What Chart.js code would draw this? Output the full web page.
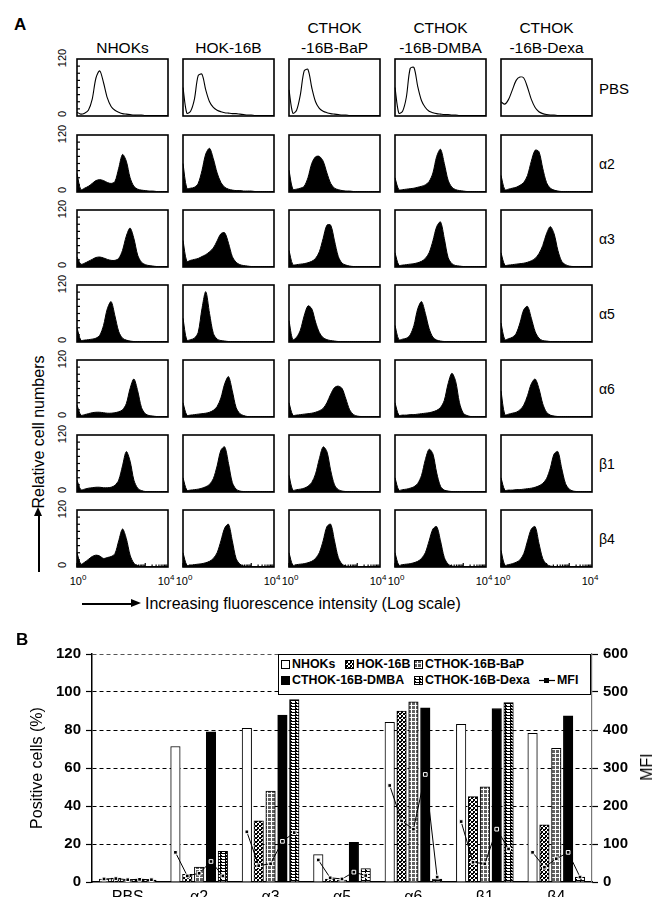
<!DOCTYPE html>
<html><head><meta charset="utf-8">
<script src="https://cdn.jsdelivr.net/npm/chart.js@4.4.1/dist/chart.umd.min.js"></script>
<style>
html,body{margin:0;padding:0;background:#fff;}
#page{position:relative;width:665px;height:897px;overflow:hidden;font-family:"Liberation Sans",Arial,Helvetica,sans-serif;color:#000;background:#fff;}
.t{position:absolute;white-space:nowrap;line-height:1;}
.c{transform:translate(-50%,-50%);}
.r{transform:translate(-50%,-50%) rotate(-90deg);}
canvas{position:absolute;}
.leg{position:absolute;left:278px;top:654px;width:311px;height:39px;border:1px solid #000;background:#fff;}
.li{position:absolute;font-weight:bold;font-size:12.4px;line-height:1;white-space:nowrap;}
sup{font-size:8px;vertical-align:5px;}
</style></head>
<body><div id="page"></div>
<script>
// ---------------- DATA ----------------
const colHeaders = ['NHOKs', 'HOK-16B', 'CTHOK\n-16B-BaP', 'CTHOK\n-16B-DMBA', 'CTHOK\n-16B-Dexa'];
const rowLabels = ['PBS', 'α2', 'α3', 'α5', 'α6', 'β1', 'β4'];
const histYTicks = ['120', '0'];
const histXTicks = ['10', '10'];
const histXExp = ['0', '4'];
const histBins = ['0','1','2','3','4','5','6','7','8','9','10','11','12','13','14','15','16','17','18','19','20','21','22','23','24'];

// relative cell numbers per fluorescence bin (0..120), one list per cell line
const histPBS = [
  [8,4,6,12,35,80,95,70,38,20,12,8,5,4,3,2,2,2,1,1,1,1,1,1,1],
  [60,6,10,35,85,88,55,30,18,12,9,7,6,5,5,4,3,2,2,1,1,1,1,1,1],
  [55,6,12,45,95,98,60,30,16,10,7,5,4,3,2,2,1,1,1,1,1,1,1,1,1],
  [60,6,10,40,100,102,62,32,18,10,7,5,4,3,3,2,2,1,1,1,1,1,1,1,1],
  [30,25,35,55,75,82,80,60,35,18,9,5,3,2,2,1,1,1,1,1,1,1,1,1,1]
];
const histA2 = [
  [39,5,8,12,18,24,26,24,20,18,22,50,79,65,30,12,6,4,3,2,2,1,1,1,1],
  [60,8,8,10,18,45,80,92,70,40,20,10,6,4,3,3,2,2,2,1,1,1,1,1,1],
  [46,6,6,8,12,30,60,74,75,65,40,18,8,5,3,2,2,1,1,1,1,1,1,1,1],
  [30,5,5,6,7,8,10,12,15,22,40,75,90,60,25,10,5,3,2,1,1,1,1,1,1],
  [35,5,6,8,10,14,20,35,65,88,85,50,20,8,4,2,1,1,1,1,1,1,1,1,1]
];
const histA3 = [
  [21,6,8,12,16,20,21,19,16,14,14,18,35,65,82,60,25,10,5,3,2,1,1,1,1],
  [56,12,14,16,18,22,26,32,40,55,70,72,50,22,10,5,3,2,1,1,1,1,1,1,1],
  [35,5,5,6,7,9,12,18,32,60,88,88,55,22,8,4,2,1,1,1,1,1,1,1,1],
  [30,4,4,5,6,7,9,12,18,30,55,85,95,60,20,7,3,2,1,1,1,1,1,1,1],
  [30,4,4,5,6,7,8,10,13,18,28,45,70,85,70,35,12,5,2,1,1,1,1,1,1]
];
const histA5 = [
  [30,4,4,5,6,8,14,35,70,85,55,22,8,4,2,1,1,1,1,1,1,1,1,1,1],
  [50,4,5,8,20,70,106,60,18,6,3,2,1,1,1,1,1,1,1,1,1,1,1,1,1],
  [45,5,10,25,55,76,70,42,20,9,5,3,2,1,1,1,1,1,1,1,1,1,1,1,1],
  [35,5,6,8,15,35,70,85,60,28,10,4,2,1,1,1,1,1,1,1,1,1,1,1,1],
  [40,5,7,10,18,40,68,75,50,22,8,3,2,1,1,1,1,1,1,1,1,1,1,1,1]
];
const histA6 = [
  [25,4,5,7,9,10,10,9,8,8,9,11,15,28,60,80,55,20,7,3,2,1,1,1,1],
  [30,4,4,5,6,7,8,10,14,22,40,70,85,55,20,7,3,1,1,1,1,1,1,1,1],
  [30,4,4,5,6,7,8,10,13,18,30,48,62,65,60,38,15,5,2,1,1,1,1,1,1],
  [30,4,4,4,5,5,6,7,8,9,11,14,20,35,70,92,75,30,8,3,1,1,1,1,1],
  [55,5,6,8,10,15,25,45,70,80,60,28,10,4,2,1,1,1,1,1,1,1,1,1,1]
];
const histB1 = [
  [25,5,6,8,9,10,10,9,9,10,14,25,55,85,65,25,8,3,1,1,1,1,1,1,1],
  [30,4,4,5,6,8,11,16,28,55,88,95,60,20,6,2,1,1,1,1,1,1,1,1,1],
  [35,4,5,6,8,12,20,38,70,95,85,45,15,5,2,1,1,1,1,1,1,1,1,1,1],
  [30,4,5,6,8,11,18,35,68,90,80,40,12,4,2,1,1,1,1,1,1,1,1,1,1],
  [30,4,4,4,5,5,6,7,8,10,13,18,28,50,80,85,50,18,6,2,1,1,1,1,1]
];
const histB4 = [
  [30,6,10,16,22,25,23,18,20,22,28,55,80,60,25,8,3,1,1,1,1,1,1,1,1],
  [30,4,4,5,6,7,9,12,18,30,55,82,90,55,18,6,2,1,1,1,1,1,1,1,1],
  [30,4,5,6,7,9,12,18,30,55,85,90,55,20,6,2,1,1,1,1,1,1,1,1,1],
  [30,4,5,6,7,9,12,18,30,55,80,85,55,20,6,2,1,1,1,1,1,1,1,1,1],
  [35,4,5,7,10,15,28,55,80,85,50,18,6,2,1,1,1,1,1,1,1,1,1,1,1]
];

// Panel B
const categoriesB = ['PBS', 'α2', 'α3', 'α5', 'α6', 'β1', 'β4'];
const seriesNames = ['NHOKs', 'HOK-16B', 'CTHOK-16B-BaP', 'CTHOK-16B-DMBA', 'CTHOK-16B-Dexa'];
const pctNHOK = [1.5, 71.3, 80.9, 14.4, 84.0, 83.0, 78.3];
const pctHOK  = [2.0, 4.0, 32.2, 1.5, 89.9, 44.9, 30.1];
const pctBaP  = [1.0, 7.8, 47.8, 1.0, 94.8, 50.1, 70.4];
const pctDMBA = [1.5, 79.1, 87.8, 20.9, 91.7, 91.3, 87.5];
const pctDexa = [1.0, 16.2, 96.0, 7.0, 1.5, 94.4, 2.6];
const mfiNHOK = [8, 78, 132, 58, 254, 159, 78];
const mfiHOK  = [9, 16, 43, 11, 161, 52, 39];
const mfiBaP  = [6, 23, 48, 8, 139, 48, 61];
const mfiDMBA = [7, 54, 107, 26, 283, 139, 78];
const mfiDexa = [6, 16, 130, 17, 13, 87, 13];
const leftTicks = [0, 20, 40, 60, 80, 100, 120];
const rightTicks = [0, 100, 200, 300, 400, 500, 600];

// ---------------- HELPERS ----------------
Chart.defaults.font.family = "'Liberation Sans', Arial, Helvetica, sans-serif";
Chart.defaults.color = '#000';
const page = document.getElementById('page');
function txt(html, x, y, css, cls) {
  const d = document.createElement('div');
  d.className = 't ' + (cls || 'c');
  d.innerHTML = html;
  d.style.left = x + 'px'; d.style.top = y + 'px';
  if (css) d.style.cssText += css;
  page.appendChild(d);
  return d;
}
function box(x, y, w, h, css) {
  const d = document.createElement('div');
  d.style.cssText = 'position:absolute;left:' + x + 'px;top:' + y + 'px;width:' + w + 'px;height:' + h + 'px;' + (css || '');
  page.appendChild(d);
  return d;
}
function tile(w, h, rows) {
  const c = document.createElement('canvas'); c.width = w; c.height = h;
  const g = c.getContext('2d');
  for (let yy = 0; yy < h; yy++) for (let xx = 0; xx < w; xx++) {
    const ch = rows[yy][xx];
    g.fillStyle = ch === 'B' ? '#000' : ch === 'G' ? '#626262' : '#fff';
    g.fillRect(xx, yy, 1, 1);
  }
  return c;
}
const tiles = {
  check: tile(4, 4, ['BWWB', 'WBBW', 'WBBW', 'BBWB']),
  grid: tile(4, 4, ['GGGW', 'GGGW', 'GGGW', 'WWWW']),
  ladder: tile(5, 3, ['BBBBB', 'BWWWW', 'BBWWW'])
};
const fills = ['white', 'check', 'grid', 'black', 'ladder'];
function fillFor(ctx, kind) {
  if (kind === 'white') return '#fff';
  if (kind === 'black') return '#000';
  return ctx.createPattern(tiles[kind], 'repeat');
}

// ---------------- PANEL A ----------------
const boxLeft = [77, 183, 289, 395, 501];
const boxTop = [59, 135, 210, 285, 360, 435, 510];
const BW = 91, BH = 57;
const histRows = [histPBS, histA2, histA3, histA5, histA6, histB1, histB4];

txt('A', 14, 16, 'font-weight:bold;font-size:17px;', 'x');
colHeaders.forEach((h, c) => {
  const lines = h.split('\n');
  const cx = boxLeft[c] + BW / 2;
  if (lines.length === 2) {
    txt(lines[0], cx, 28, 'font-size:15.5px;');
    txt(lines[1], cx, 48, 'font-size:15.5px;');
  } else {
    txt(lines[0], cx, 48, 'font-size:15.5px;');
  }
});

const boxPlugin = {
  id: 'boxFrame',
  afterDraw(chart) {
    const a = chart.chartArea, g = chart.ctx, o = chart.options.plugins.boxFrame;
    g.save();
    g.strokeStyle = '#000'; g.lineWidth = 1.6;
    g.strokeRect(a.left, a.top, a.right - a.left, a.bottom - a.top);
    g.lineWidth = 1.2;
    if (o.leftTicks) {
      for (let k = 1; k < 8; k++) {
        const yy = a.bottom - (a.bottom - a.top) * k / 8;
        g.beginPath(); g.moveTo(a.left, yy); g.lineTo(a.left + 3, yy); g.stroke();
      }
    }
    if (o.bottomTicks) {
      const w = a.right - a.left;
      for (let d = 0; d < 4; d++) for (let m = 1; m < 10; m++) {
        const xx = a.left + w * (d + Math.log10(m)) / 4;
        const len = m === 1 ? 4 : 2.5;
        g.beginPath(); g.moveTo(xx, a.bottom); g.lineTo(xx, a.bottom - len); g.stroke();
      }
    }
    g.restore();
  }
};

histRows.forEach((row, r) => {
  row.forEach((vals, c) => {
    const cv = document.createElement('canvas');
    cv.width = BW + 4; cv.height = BH + 4;
    cv.style.left = (boxLeft[c] - 2) + 'px'; cv.style.top = (boxTop[r] - 2) + 'px';
    page.appendChild(cv);
    new Chart(cv, {
      type: 'line',
      data: { labels: histBins, datasets: [{
        data: vals, borderColor: '#000', borderWidth: r === 0 ? 1.1 : 1,
        backgroundColor: r === 0 ? 'rgba(0,0,0,0)' : '#000',
        fill: r === 0 ? false : 'origin', pointRadius: 0, tension: 0.3
      }] },
      options: {
        responsive: false, animation: false, events: [], devicePixelRatio: 1,
        layout: { padding: 2 },
        plugins: { legend: { display: false }, tooltip: { enabled: false },
          boxFrame: { leftTicks: c === 0, bottomTicks: r === histRows.length - 1 } },
        scales: { x: { display: false, offset: false }, y: { display: false, min: 0, max: 120 } }
      },
      plugins: [boxPlugin]
    });
  });
  const lab = txt(rowLabels[r], 599, boxTop[r] + BH / 2, 'font-size:' + (r === 0 ? 15 : 14) + 'px;', 'x');
  lab.style.transform = 'translateY(-50%)';
  txt(histYTicks[0], 62, boxTop[r] - 1, 'font-size:11px;', 'r');
  txt(histYTicks[1], 62, boxTop[r] + BH - 2, 'font-size:11px;', 'r');
});
boxLeft.forEach((bl) => {
  const yb = boxTop[6] + BH + 13;
  txt(histXTicks[0] + '<sup>' + histXExp[0] + '</sup>', bl + 1, yb, 'font-size:11px;');
  txt(histXTicks[1] + '<sup>' + histXExp[1] + '</sup>', bl + BW - 2, yb, 'font-size:11px;');
});
// y title with arrow
txt('Relative cell numbers', 39, 432, 'font-size:16px;', 'r');
box(38, 515, 1.5, 57, 'background:#000;');
box(34, 507, 0, 0, 'border-left:4.5px solid transparent;border-right:4.5px solid transparent;border-bottom:9px solid #000;');
// x title with arrow
box(82, 603, 50, 1.5, 'background:#000;');
box(131, 599, 0, 0, 'border-top:4.5px solid transparent;border-bottom:4.5px solid transparent;border-left:10px solid #000;');
txt('Increasing fluorescence intensity (Log scale)', 145, 604, 'font-size:16px;transform:translateY(-50%);', 'x');

// ---------------- PANEL B ----------------
txt('B', 16, 631, 'font-weight:bold;font-size:17px;', 'x');
const cvB = document.createElement('canvas');
cvB.width = 665; cvB.height = 290;
cvB.style.left = '0px'; cvB.style.top = '634px';
page.appendChild(cvB);
const ctxB = cvB.getContext('2d');
const SLOT = 0.166;       // distance between neighbouring bars, in category units
const BAR_PX = 9.5;       // bar thickness in pixels
const pctSeries = [pctNHOK, pctHOK, pctBaP, pctDMBA, pctDexa];
const mfiSeries = [mfiNHOK, mfiHOK, mfiBaP, mfiDMBA, mfiDexa];
const mfiPoints = [];
categoriesB.forEach((cat, g) => {
  mfiSeries.forEach((s, k) => mfiPoints.push({ x: g + (k - 2) * SLOT, y: s[g] }));
  mfiPoints.push({ x: g + 0.5, y: null });
});
const barSets = pctSeries.map((s, k) => ({
  type: 'bar', label: seriesNames[k],
  data: s.map((v, g) => ({ x: g + (k - 2) * SLOT, y: v })),
  backgroundColor: fillFor(ctxB, fills[k]), borderColor: '#000', borderWidth: 1,
  grouped: false, barThickness: BAR_PX, xAxisID: 'x', yAxisID: 'y', order: 2
}));
new Chart(cvB, {
  data: { datasets: barSets.concat([{
    type: 'line', label: 'MFI', data: mfiPoints, xAxisID: 'x', yAxisID: 'y2',
    borderColor: '#000', borderWidth: 1, spanGaps: false, tension: 0,
    pointStyle: 'rect', pointRadius: 2.6, pointBackgroundColor: '#000',
    pointBorderColor: '#fff', pointBorderWidth: 1, order: 0
  }]) },
  options: {
    responsive: false, animation: false, events: [], devicePixelRatio: 1,
    layout: { padding: { top: 20, left: 0, right: 0, bottom: 0 } },
    plugins: { legend: { display: false }, tooltip: { enabled: false } },
    scales: {
      x: { type: 'linear', min: -0.5, max: 6.5, offset: false,
        afterBuildTicks(s) { s.ticks = categoriesB.map((c, i) => ({ value: i })); },
        grid: { display: false, drawTicks: false },
        border: { display: true, color: '#000', width: 1.5 },
        ticks: { color: '#000', font: { size: 16 }, padding: 6, autoSkip: false, maxRotation: 0,
          callback: (v) => categoriesB[v] },
        afterFit(s) { s.height = 42; } },
      y: { position: 'left', min: 0, max: 120,
        afterBuildTicks(s) { const t = []; for (let v = 0; v <= 120; v += 10) t.push({ value: v }); s.ticks = t; },
        ticks: { color: '#000', font: { size: 15, weight: 'bold' }, padding: 5,
          callback: (v) => leftTicks.includes(v) ? String(v) : '' },
        grid: { color: (c) => (c.tick && c.tick.value % 20 === 0 && c.tick.value > 0) ? (c.tick.value === 120 ? '#555' : '#000') : 'rgba(0,0,0,0)',
          lineWidth: 1, tickColor: '#000', tickLength: 6, tickBorderDash: [], tickWidth: 1.2 },
        border: { display: true, color: '#000', width: 1.5, dash: [4, 3] },
        title: { display: true, text: 'Positive cells (%)', font: { size: 16 }, color: '#000', padding: { top: 28, bottom: 0 } },
        afterFit(s) { s.width = 92; } },
      y2: { position: 'right', min: 0, max: 600,
        afterBuildTicks(s) { const t = []; for (let v = 0; v <= 600; v += 50) t.push({ value: v }); s.ticks = t; },
        ticks: { color: '#000', font: { size: 15, weight: 'bold' }, padding: 5,
          callback: (v) => rightTicks.includes(v) ? String(v) : '' },
        grid: { drawOnChartArea: false, tickColor: '#000', tickLength: 6, tickWidth: 1.2 },
        border: { display: true, color: '#777', width: 1.2 },
        afterFit(s) { s.width = 73; } }
    }
  }
});
txt('MFI', 647, 767, 'font-size:16px;', 'r');

// legend
const leg = document.createElement('div'); leg.className = 'leg'; page.appendChild(leg);
function legItem(kind, label, x, y) {
  const sw = document.createElement('canvas'); sw.width = 9; sw.height = 9;
  sw.style.left = x + 'px'; sw.style.top = (y - 4.5) + 'px';
  const g = sw.getContext('2d');
  g.fillStyle = fillFor(g, kind); g.fillRect(0, 0, 9, 9);
  g.strokeStyle = '#000'; g.lineWidth = 1; g.strokeRect(0.5, 0.5, 8, 8);
  leg.appendChild(sw);
  const s = document.createElement('div'); s.className = 'li';
  s.textContent = label; s.style.left = (x + 11) + 'px'; s.style.top = (y - 6.5) + 'px';
  leg.appendChild(s);
}
legItem(fills[0], seriesNames[0], 2, 9);
legItem(fills[1], seriesNames[1], 66, 9);
legItem(fills[2], seriesNames[2], 135, 9);
legItem(fills[3], seriesNames[3], 2, 25);
legItem(fills[4], seriesNames[4], 135, 25);
const ms = document.createElement('canvas'); ms.width = 16; ms.height = 9;
ms.style.left = '260px'; ms.style.top = '20.5px';
const mg = ms.getContext('2d');
mg.strokeStyle = '#000'; mg.lineWidth = 1.2; mg.beginPath(); mg.moveTo(0, 4.5); mg.lineTo(16, 4.5); mg.stroke();
mg.fillStyle = '#000'; mg.fillRect(5, 2, 5, 5);
leg.appendChild(ms);
const mt = document.createElement('div'); mt.className = 'li'; mt.textContent = 'MFI';
mt.style.left = '278px'; mt.style.top = '18.5px'; leg.appendChild(mt);
</script>
</body></html>
